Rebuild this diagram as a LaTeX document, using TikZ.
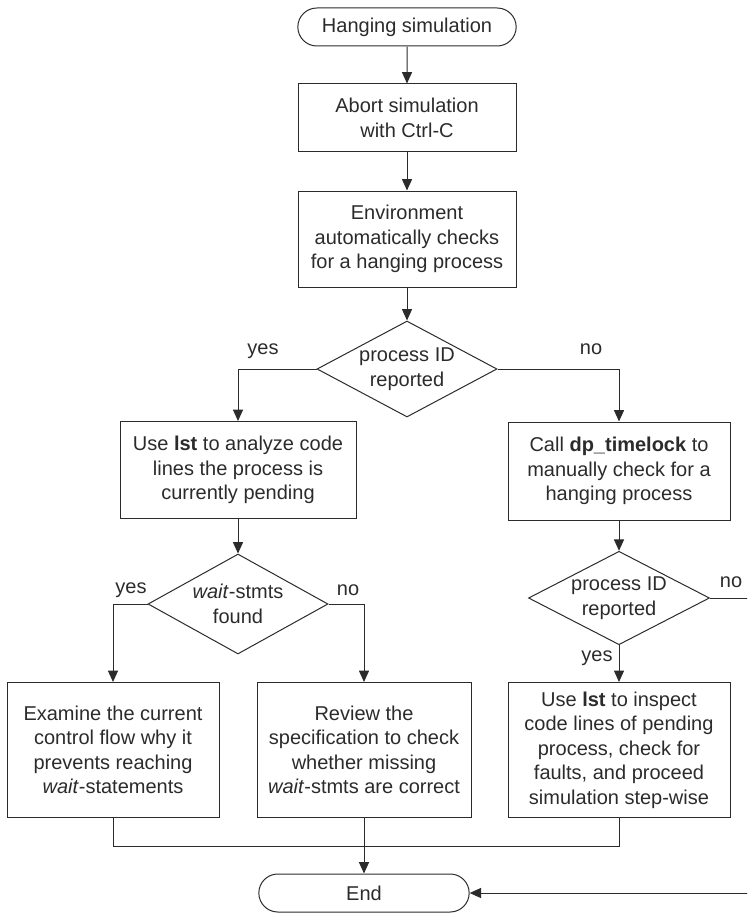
\documentclass[tikz,border=0pt]{standalone}
\usepackage{fontspec}
\setmainfont{Liberation Sans}
\usetikzlibrary{shapes.geometric,shapes.misc,arrows.meta}

\definecolor{ink}{HTML}{2B2B2B}

\tikzset{
    base/.style={draw=ink, text=ink, line width=0.75pt, align=center, inner sep=1pt,
        font=\fontsize{15}{18.4}\selectfont},
    term/.style={base, rounded rectangle},
    stepbox/.style={base, rectangle},
    decision/.style={base, diamond, aspect=1.875, inner sep=0pt},
    lbl/.style={text=ink, inner sep=0pt, font=\fontsize{15}{18.4}\selectfont},
    arrow/.style={draw=ink, line width=0.75pt, -{Triangle[length=8.5pt,width=7.5pt]}},
    line/.style={draw=ink, line width=0.75pt}
}

\begin{document}
\begin{tikzpicture}[x=0.75pt, y=-0.75pt]
        % Fix the page size
        \useasboundingbox (0,0) rectangle (747,913);
        \clip (0,0) rectangle (747,913);

        % Main column
        \node[term, minimum width=165.75pt, minimum height=28.5pt] (start) at (407,27) {Hanging simulation};
        \node[stepbox, minimum width=163.5pt, minimum height=51pt] (abort) at (407,118) {Abort simulation\\with Ctrl-C};
        \node[stepbox, minimum width=163.5pt, minimum height=72pt] (env) at (407,239) {Environment\\automatically checks\\for a hanging process};
        \node[decision, minimum width=135pt, minimum height=72pt] (dec1) at (407,369) {process ID\\reported};

        % Left branch
        \node[stepbox, minimum width=177pt, minimum height=72.75pt] (lst1) at (238,470) {Use \textbf{lst} to analyze code\\lines the process is\\currently pending};
        \node[decision, minimum width=135pt, minimum height=75pt] (dec2) at (238,604) {\textit{wait}-stmts\\found};
        \node[stepbox, minimum width=159pt, minimum height=101.25pt] (exam) at (113,750) {Examine the current\\control flow why it\\prevents reaching\\\textit{wait}-statements};
        \node[stepbox, minimum width=160.5pt, minimum height=101.25pt] (review) at (364,750) {Review the\\specification to check\\whether missing\\\textit{wait}-stmts are correct};

        % Right branch
        \node[stepbox, minimum width=166.5pt, minimum height=73.5pt] (call) at (619,471) {Call \textbf{dp\_timelock} to\\manually check for a\\hanging process};
        \node[decision, minimum width=135.75pt, minimum height=67.5pt] (dec3) at (619,598) {process ID\\reported};
        \node[stepbox, minimum width=166.5pt, minimum height=101.25pt] (inspect) at (619,750) {Use \textbf{lst} to inspect\\code lines of pending\\process, check for\\faults, and proceed\\simulation step-wise};

        % End
        \node[term, minimum width=159.75pt, minimum height=28.5pt] (end) at (364,893) {End};

        % Branch labels
        \node[lbl] (yes1) at (263,351) {yes};
        \node[lbl] (no1) at (591,349) {no};
        \node[lbl] (yes2) at (131,590) {yes};
        \node[lbl] (no2) at (348,590) {no};
        \node[lbl] (no3) at (731,582) {no};
        \node[lbl] (yes3) at (597,658) {yes};

        % Helper points
        \coordinate (merge) at (364,846);
        \coordinate (edge) at (770,598);

        % Connectors
        \draw[arrow] (start) -- (abort);
        \draw[arrow] (abort) -- (env);
        \draw[arrow] (env) -- (dec1);
        \draw[arrow] (dec1.west) -| (lst1.north);
        \draw[arrow] (dec1.east) -| (call.north);
        \draw[arrow] (lst1) -- (dec2);
        \draw[arrow] (dec2.west) -| (exam.north);
        \draw[arrow] (dec2.east) -| (review.north);
        \draw[arrow] (call) -- (dec3);
        \draw[arrow] (dec3) -- (inspect);
        \draw[arrow] (dec3.east) -- (edge) |- (end.east);
        \draw[line] (exam.south) |- (merge) -| (inspect.south);
        \draw[arrow] (review.south) -- (end.north);
    \end{tikzpicture}
\end{document}
